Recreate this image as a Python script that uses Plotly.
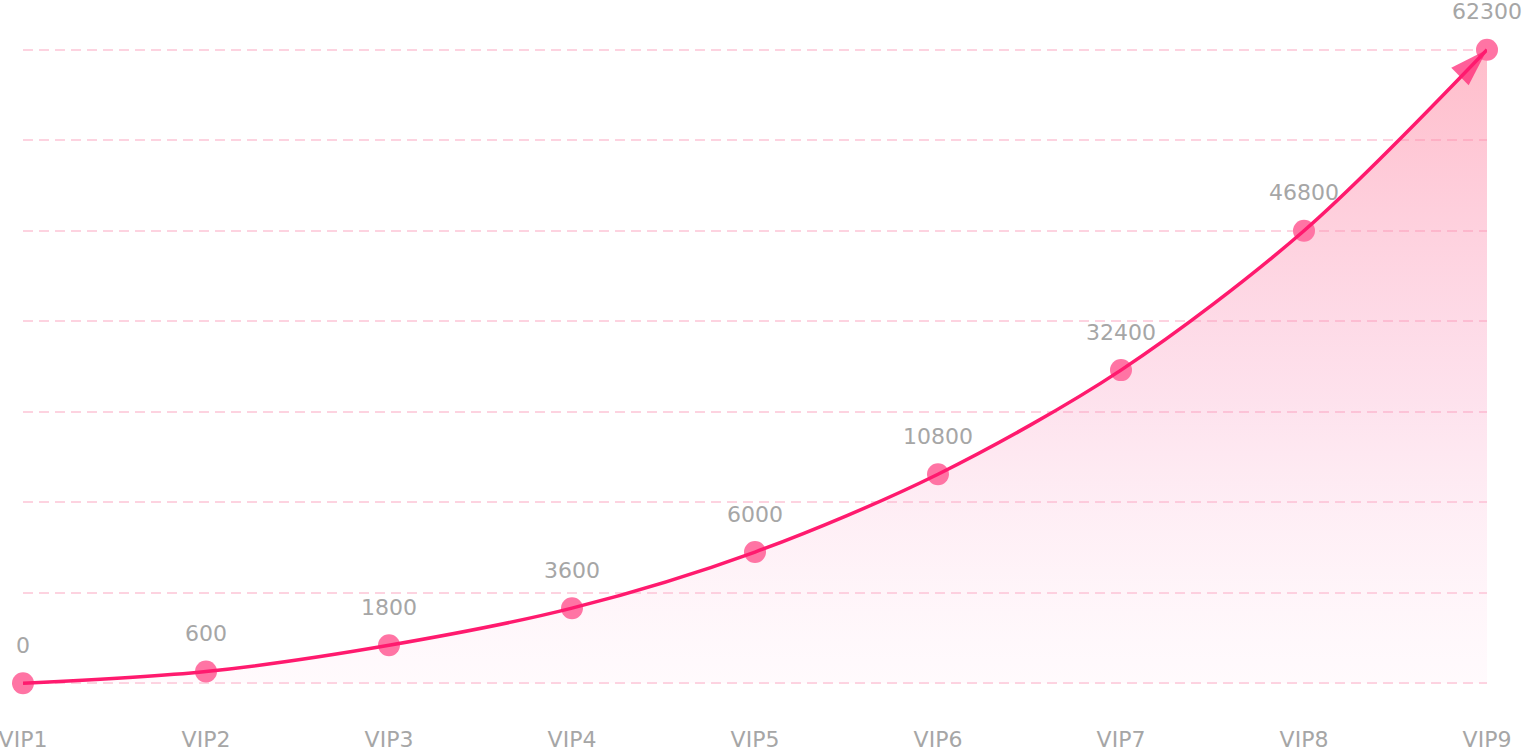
import plotly.graph_objects as go

levels = ["VIP1", "VIP2", "VIP3", "VIP4", "VIP5", "VIP6", "VIP7", "VIP8", "VIP9"]
# growth labels shown above each point
labels = ["0", "600", "1800", "3600", "6000", "10800", "32400", "46800", "62300"]
# plotted curve height (in hidden-axis units 0..70)
heights = [0, 1.3, 4.2, 8.3, 14.5, 23.1, 34.6, 50, 70]

LINE = "#ff1a6e"
MARK = "#ff74a4"
GRID = "#fdd3e0"
TXT = "#a6a6a6"
FONT = "DejaVu Sans"

fig = go.Figure()

# gradient area (translucent so the dashed grid shows through)
fig.add_trace(go.Scatter(
    x=levels, y=heights, mode="lines",
    line=dict(width=0, shape="spline", smoothing=0.9),
    fill="tozeroy",
    fillgradient=dict(type="vertical", start=0, stop=70,
                      colorscale=[[0, "rgba(255,215,235,0.12)"],
                                  [0.45, "rgba(250,150,190,0.28)"],
                                  [1, "rgba(255,130,155,0.53)"]]),
    hoverinfo="skip", showlegend=False,
))

# point markers (under the line)
fig.add_trace(go.Scatter(
    x=levels, y=heights, mode="markers",
    marker=dict(size=22, color=MARK, line=dict(width=0)),
    cliponaxis=False, showlegend=False,
))

# line with arrow head at the end
n = len(levels)
fig.add_trace(go.Scatter(
    x=levels, y=heights, mode="lines+markers",
    line=dict(color=LINE, width=3.5, shape="spline", smoothing=0.9),
    marker=dict(symbol=["circle"] * (n - 1) + ["arrow"],
                size=[0] * (n - 1) + [40],
                angleref="previous", color=LINE, line=dict(width=0)),
    cliponaxis=False, showlegend=False,
))

for lv, h, lab in zip(levels, heights, labels):
    fig.add_annotation(x=lv, y=h, text=lab, showarrow=False, yshift=38,
                       font=dict(size=22, color=TXT, family=FONT))

fig.update_layout(
    width=1524, height=752,
    margin=dict(l=23, r=37, t=47, b=66),
    paper_bgcolor="white", plot_bgcolor="white",
    font=dict(family=FONT, size=22, color=TXT),
    xaxis=dict(type="category", range=[0, n - 1], showgrid=False, zeroline=False,
               showline=False, ticks="", automargin=False,
               tickfont=dict(size=22, color=TXT, family=FONT),
               ticklabelstandoff=38),
    yaxis=dict(range=[-0.3, 70.3], tickvals=[0, 10, 20, 30, 40, 50, 60, 70],
               showgrid=True, gridcolor=GRID, gridwidth=2, automargin=False,
               griddash="10px,6px", zeroline=False, showticklabels=False, showline=False),
)

fig.write_html("out.html", config={"displayModeBar": False},
               post_script="document.body.style.margin='0';document.body.style.overflow='hidden';")
